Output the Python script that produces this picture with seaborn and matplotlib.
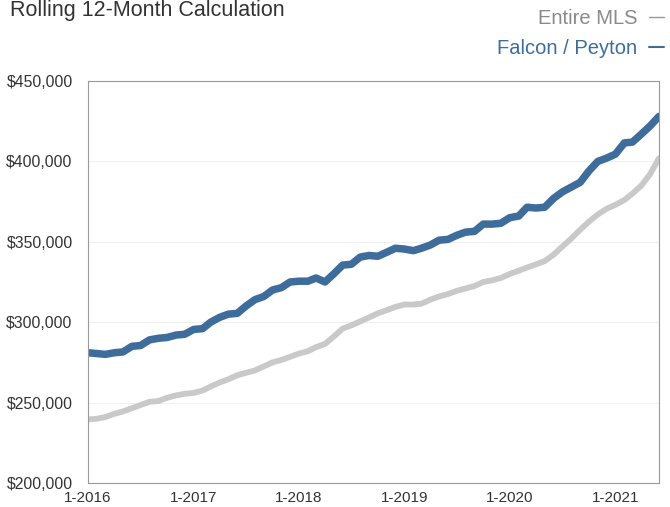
import numpy as np
import pandas as pd
import matplotlib
matplotlib.use("Agg")
import matplotlib.pyplot as plt
from matplotlib.lines import Line2D
from matplotlib.ticker import FuncFormatter
import seaborn as sns

# ---- data (monthly, Jan 2016 .. Jun 2021), values in thousands of $ ----
months = pd.date_range("2016-01-01", periods=66, freq="MS")
falcon_peyton = [
    281, 280.5, 280, 281, 281.5, 285, 285.5, 289, 290, 290.5, 292, 292.5,
    295.5, 296, 300, 303, 305, 305.5, 310, 314, 316, 320, 321.5, 325,
    325.5, 325.5, 327.5, 325, 330, 335.5, 336, 340.5, 341.5, 341, 343.5, 346,
    345.5, 344.5, 346, 348, 351, 351.5, 354, 356, 356.5, 361, 361, 361.5,
    365, 366, 371.5, 371, 371.5, 377, 381, 384, 387, 394, 400, 402,
    404.5, 411.5, 412, 417, 422, 428,
]
entire_mls = [
    239.5, 240, 241, 243, 244.5, 246.5, 248.5, 250.5, 251, 253, 254.5, 255.5,
    256, 257.5, 260, 262.5, 264.5, 267, 268.5, 270, 272.5, 275, 276.5, 278.5,
    280.5, 282, 284.5, 286.5, 291, 296, 298, 300.5, 303, 305.5, 307.5, 309.5,
    311, 311, 311.5, 314, 316, 317.5, 319.5, 321, 322.5, 325, 326, 327.5,
    330, 332, 334, 336, 338, 342, 347, 352, 357.5, 362.5, 367, 370.5,
    373, 376, 380, 385, 392, 402,
]
series_names = ["Entire MLS", "Falcon / Peyton"]
year_ticks = ["2016-01-01", "2017-01-01", "2018-01-01", "2019-01-01", "2020-01-01", "2021-01-01"]
year_labels = ["1-2016", "1-2017", "1-2018", "1-2019", "1-2020", "1-2021"]
y_ticks = [200000, 250000, 300000, 350000, 400000, 450000]
title = "Rolling 12-Month Calculation"

df = pd.concat([
    pd.DataFrame({"month": months, "price": np.array(entire_mls) * 1000, "series": series_names[0]}),
    pd.DataFrame({"month": months, "price": np.array(falcon_peyton) * 1000, "series": series_names[1]}),
])

BLUE = "#3e6d9c"
GRAY = "#c9c9c9"
palette = {series_names[0]: GRAY, series_names[1]: BLUE}

sns.set_style("white")
plt.rcParams["font.family"] = ["Liberation Sans", "DejaVu Sans"]

fig = plt.figure(figsize=(6.7, 5.07), dpi=100)
ax = fig.add_axes([88 / 670, 1 - 483 / 507, (659 - 88) / 670, (483 - 81) / 507])

sns.lineplot(data=df[df.series == series_names[0]], x="month", y="price", hue="series",
             palette=palette, linewidth=4.2, legend=False, ax=ax, solid_capstyle="round")
sns.lineplot(data=df[df.series == series_names[1]], x="month", y="price", hue="series",
             palette=palette, linewidth=5.4, legend=False, ax=ax, solid_capstyle="round")

ax.set_xlim(months[0], months[-1])
ax.set_ylim(200000, 450000)
ax.set_yticks(y_ticks)
ax.yaxis.set_major_formatter(FuncFormatter(lambda v, p: f"${v:,.0f}"))
ax.set_xticks(pd.to_datetime(year_ticks))
ax.set_xticklabels(year_labels)
ax.set_xlabel("")
ax.set_ylabel("")
ax.grid(axis="y", color="#f0f0f0", linewidth=0.8)
ax.set_axisbelow(True)

for s in ax.spines.values():
    s.set_color("#9a9a9a")
    s.set_linewidth(0.8)
    s.set_visible(True)

ax.tick_params(axis="y", length=0, pad=11, labelsize=11.3, labelcolor="#333333")
ax.tick_params(axis="x", length=3, width=0.6, color="#9a9a9a", direction="in",
               pad=6, labelsize=11, labelcolor="#333333")

# title at top left
fig.text(10 / 670, 1 - 16 / 507, title, fontsize=15.5, color="#333333",
         ha="left", va="baseline")

# legend drawn at top right
fig.text(637 / 670, 1 - 18 / 507, series_names[0], fontsize=14.5, color="#8a8a8a",
         ha="right", va="center")
fig.text(637 / 670, 1 - 48 / 507, series_names[1], fontsize=14.5, color=BLUE,
         ha="right", va="center")
fig.add_artist(Line2D([649 / 670, 664 / 670], [1 - 17 / 507, 1 - 17 / 507],
                      transform=fig.transFigure, color="#9a9a9a", linewidth=1.0))
fig.add_artist(Line2D([649 / 670, 664 / 670], [1 - 47 / 507, 1 - 47 / 507],
                      transform=fig.transFigure, color=BLUE, linewidth=1.5))

fig.savefig("out.png", dpi=100)
